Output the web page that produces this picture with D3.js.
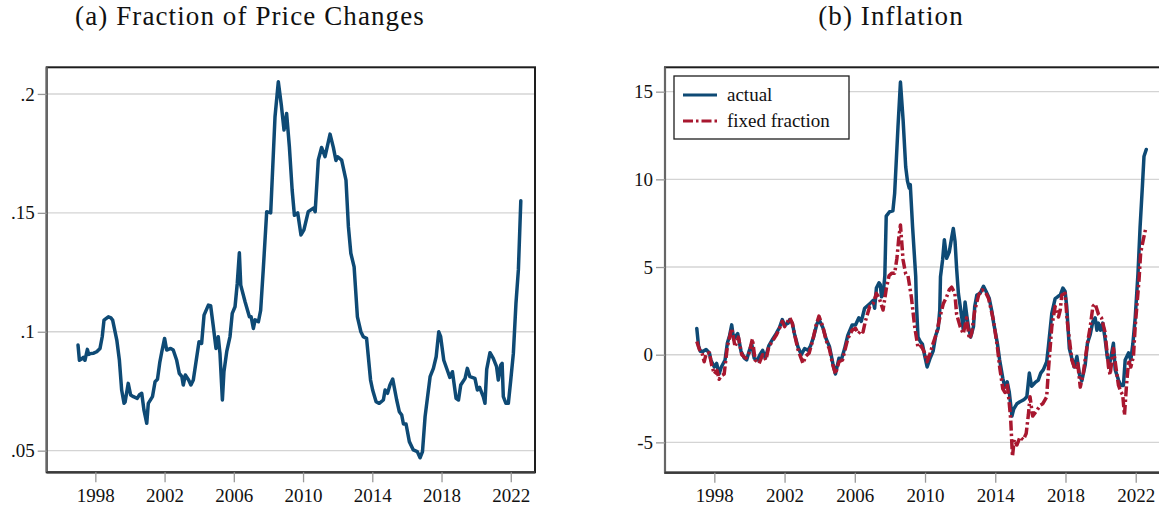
<!DOCTYPE html>
<html>
<head>
<meta charset="utf-8">
<script src="https://cdn.jsdelivr.net/npm/d3@7"></script>
<style>
  html, body { margin: 0; padding: 0; background: #fff; }
  svg { display: block; }
  text { font-family: "Liberation Serif", "Times New Roman", serif; fill: #111; }
</style>
</head>
<body>
<svg id="chart" width="1159" height="515"></svg>
<script>
// ---------------- DATA ----------------
const xTickYears = [1998, 2002, 2006, 2010, 2014, 2018, 2022];
const fracTicks = [0.05, 0.1, 0.15, 0.2];
const fracTickLabels = [".05", ".1", ".15", ".2"];
const inflTicks = [-5, 0, 5, 10, 15];
const inflTickLabels = ["-5", "0", "5", "10", "15"];
const titleA = "(a) Fraction of Price Changes";
const titleB = "(b) Inflation";
const legendLabels = ["actual", "fixed fraction"];

// Panel (a): fraction of price changes
const fracYears = [1997.0,1997.08,1997.2,1997.31,1997.4,1997.54,1997.62,1997.7,1997.9,1998.08,1998.27,1998.4,1998.5,1998.75,1998.9,1999.0,1999.24,1999.39,1999.52,1999.66,1999.72,1999.77,1999.9,2000.04,2000.2,2000.42,2000.55,2000.68,2000.81,2000.97,2001.06,2001.3,2001.45,2001.59,2001.72,2001.84,2002.0,2002.12,2002.35,2002.5,2002.7,2002.85,2003.0,2003.08,2003.2,2003.39,2003.52,2003.66,2003.86,2003.99,2004.14,2004.28,2004.53,2004.66,2004.82,2004.97,2005.1,2005.2,2005.34,2005.43,2005.59,2005.78,2005.91,2006.07,2006.2,2006.32,2006.4,2006.65,2006.9,2007.0,2007.13,2007.23,2007.42,2007.55,2007.7,2007.9,2008.13,2008.38,2008.57,2008.75,2008.9,2009.05,2009.21,2009.37,2009.5,2009.69,2009.88,2010.05,2010.3,2010.6,2010.7,2010.88,2011.07,2011.27,2011.56,2011.75,2011.9,2012.0,2012.23,2012.48,2012.62,2012.76,2012.95,2013.14,2013.34,2013.48,2013.67,2013.9,2014.02,2014.22,2014.4,2014.64,2014.74,2014.88,2015.02,2015.18,2015.41,2015.56,2015.7,2015.8,2015.95,2016.14,2016.37,2016.6,2016.76,2016.9,2017.05,2017.34,2017.53,2017.69,2017.84,2017.95,2018.13,2018.33,2018.48,2018.63,2018.84,2018.98,2019.11,2019.36,2019.49,2019.64,2019.93,2020.07,2020.2,2020.41,2020.51,2020.61,2020.8,2020.99,2021.18,2021.28,2021.42,2021.5,2021.57,2021.72,2021.86,2022.0,2022.15,2022.3,2022.44,2022.58];
const fracValues = [0.0944,0.088,0.0885,0.0892,0.088,0.0926,0.0905,0.0908,0.091,0.0916,0.093,0.098,0.1049,0.1063,0.1058,0.1049,0.0965,0.088,0.0755,0.0699,0.0705,0.0727,0.0783,0.0734,0.0727,0.072,0.0735,0.0741,0.067,0.0615,0.0699,0.0727,0.079,0.08,0.087,0.0916,0.0972,0.0923,0.093,0.0923,0.088,0.0825,0.0811,0.0776,0.0818,0.0797,0.0776,0.0797,0.0895,0.0958,0.0951,0.107,0.1112,0.111,0.102,0.093,0.0979,0.0909,0.0713,0.0832,0.0916,0.098,0.1077,0.1105,0.1204,0.1332,0.1196,0.1126,0.1063,0.1063,0.1014,0.105,0.1042,0.109,0.126,0.1505,0.150,0.1904,0.2051,0.195,0.1848,0.1918,0.1778,0.1596,0.149,0.150,0.1407,0.1428,0.1505,0.152,0.1505,0.1722,0.1775,0.1736,0.1831,0.1775,0.172,0.1736,0.1722,0.1638,0.1442,0.133,0.1273,0.1063,0.1,0.0979,0.0972,0.0797,0.0755,0.0706,0.0699,0.0713,0.0755,0.0741,0.0776,0.0801,0.0713,0.0664,0.065,0.0612,0.0612,0.0538,0.0503,0.0496,0.047,0.0496,0.0643,0.0811,0.0846,0.0895,0.1,0.0979,0.088,0.0839,0.0808,0.0832,0.072,0.0713,0.0776,0.0804,0.0846,0.0811,0.0804,0.0755,0.0766,0.0727,0.0699,0.0842,0.0912,0.0888,0.0853,0.0797,0.086,0.0867,0.0727,0.0699,0.0699,0.0797,0.0909,0.1119,0.126,0.1551];

// Panel (b): inflation, actual
const actualYears = [1997.0,1997.1,1997.2,1997.37,1997.53,1997.72,1997.8,1998.0,1998.13,1998.27,1998.4,1998.61,1998.74,1998.87,1998.99,1999.1,1999.33,1999.52,1999.71,1999.84,1999.98,2000.13,2000.27,2000.46,2000.6,2000.75,2000.9,2001.1,2001.33,2001.52,2001.71,2001.87,2002.0,2002.2,2002.3,2002.44,2002.56,2002.76,2002.95,2003.14,2003.33,2003.48,2003.65,2003.84,2003.96,2004.18,2004.37,2004.56,2004.75,2004.9,2005.1,2005.23,2005.42,2005.6,2005.85,2006.04,2006.23,2006.37,2006.56,2006.85,2007.04,2007.13,2007.23,2007.38,2007.45,2007.52,2007.61,2007.71,2007.79,2007.98,2008.17,2008.27,2008.46,2008.6,2008.75,2008.9,2009.0,2009.1,2009.16,2009.29,2009.47,2009.51,2009.6,2009.73,2009.85,2009.98,2010.12,2010.27,2010.46,2010.61,2010.75,2010.84,2010.88,2011.0,2011.1,2011.23,2011.38,2011.52,2011.61,2011.71,2011.8,2011.9,2012.09,2012.18,2012.28,2012.37,2012.47,2012.6,2012.76,2012.83,2012.95,2013.14,2013.33,2013.48,2013.66,2013.8,2013.91,2014.12,2014.25,2014.43,2014.55,2014.68,2014.8,2014.95,2015.05,2015.23,2015.38,2015.57,2015.7,2015.8,2015.94,2016.07,2016.26,2016.45,2016.59,2016.74,2016.93,2017.03,2017.22,2017.41,2017.55,2017.7,2017.85,2017.98,2018.07,2018.22,2018.36,2018.5,2018.65,2018.8,2018.93,2019.12,2019.25,2019.41,2019.56,2019.69,2019.79,2019.88,2020.0,2020.12,2020.25,2020.39,2020.54,2020.73,2020.83,2021.02,2021.15,2021.3,2021.4,2021.59,2021.72,2021.84,2021.97,2022.13,2022.25,2022.38,2022.47,2022.6];
const actualValues = [1.5,0.5,0.2,0.2,0.3,0.1,-0.3,-0.7,-0.5,-1.1,-0.7,-0.3,0.65,1.1,1.7,0.9,1.2,0.2,-0.2,-0.3,0.2,0.6,-0.2,-0.3,0,0.25,-0.2,0.5,0.9,1.2,1.55,2.0,1.7,1.8,2.0,1.8,1.2,0.45,0,0.35,0.25,0.5,1.0,1.75,2.0,1.55,0.9,0.45,-0.5,-1.1,-0.2,-0.3,0.35,1.1,1.7,1.7,2.1,1.9,2.65,2.9,3.1,2.65,3.8,4.1,4.0,3.3,3.4,4.5,7.9,8.15,8.2,9.2,13.0,15.55,13.4,10.7,9.9,9.5,9.7,7.3,4.45,2.9,1.0,0.75,0.6,-0.05,-0.7,-0.25,0.2,1.1,1.5,2.55,4.45,5.4,6.55,5.5,5.85,6.7,7.2,6.45,4.9,3.5,2.15,1.4,3.0,2.3,1.6,1.0,1.6,2.75,3.4,3.5,3.9,3.6,3.2,2.5,1.8,0.65,-0.3,-1.35,-1.85,-1.55,-2.15,-3.5,-3.1,-2.8,-2.7,-2.6,-2.5,-2.4,-1.05,-1.8,-1.6,-1.45,-1.05,-0.85,-0.4,0.5,2.35,3.2,3.3,3.4,3.8,3.6,2.75,0.35,-0.2,-0.7,-0.1,-1.15,-1.5,-0.6,0.65,1.15,1.9,2.1,1.4,1.8,1.4,1.8,0.95,-0.2,-0.4,0.65,-0.85,-1.45,-1.75,-1.75,-0.3,0.1,-0.3,0.65,2.1,4.65,7.3,9.6,11.3,11.7];

// Panel (b): inflation, fixed fraction
const fixedYears = [1997.0,1997.15,1997.3,1997.42,1997.55,1997.72,1997.85,1998.0,1998.15,1998.27,1998.4,1998.56,1998.74,1998.99,1999.18,1999.37,1999.56,1999.79,1999.98,2000.17,2000.32,2000.55,2000.75,2000.94,2001.1,2001.33,2001.52,2001.71,2001.87,2002.0,2002.3,2002.44,2002.56,2002.76,2003.05,2003.2,2003.4,2003.6,2003.8,2003.96,2004.18,2004.37,2004.56,2004.75,2004.9,2005.1,2005.3,2005.45,2005.6,2005.85,2006.04,2006.2,2006.37,2006.47,2006.6,2006.85,2007.04,2007.23,2007.4,2007.61,2007.8,2007.95,2008.1,2008.27,2008.4,2008.51,2008.6,2008.75,2008.9,2009.03,2009.22,2009.41,2009.6,2009.79,2009.98,2010.12,2010.27,2010.46,2010.65,2010.84,2011.04,2011.23,2011.38,2011.52,2011.7,2011.8,2012.0,2012.18,2012.37,2012.52,2012.65,2012.83,2013.05,2013.24,2013.43,2013.62,2013.89,2014.12,2014.25,2014.43,2014.55,2014.68,2014.8,2014.88,2014.98,2015.08,2015.23,2015.41,2015.6,2015.76,2015.89,2015.98,2016.13,2016.36,2016.55,2016.7,2016.93,2017.03,2017.22,2017.41,2017.6,2017.7,2017.79,2017.98,2018.1,2018.36,2018.55,2018.7,2018.84,2019.0,2019.25,2019.41,2019.56,2019.69,2019.88,2020.05,2020.25,2020.45,2020.54,2020.73,2020.89,2021.02,2021.15,2021.26,2021.36,2021.47,2021.6,2021.72,2021.87,2021.97,2022.19,2022.28,2022.43,2022.57];
const fixedValues = [0.75,0.3,0.1,-0.4,0.1,0.1,-0.6,-1.1,-0.9,-1.4,-1.2,-1.1,0.45,1.5,0.45,1.0,0,-0.2,0.1,0.9,-0.3,-0.5,0,-0.3,0.45,0.8,1.1,1.5,1.9,1.6,2.1,1.8,1.2,0.3,-0.5,-0.1,0.1,0.8,1.7,2.2,1.6,0.8,0.3,-0.6,-1.1,-0.4,-0.3,0.3,0.9,1.4,1.5,1.2,1.4,1.3,1.9,2.75,2.9,3.5,3.2,2.55,3.8,4.5,4.65,4.65,5.5,6.7,7.4,5.4,4.6,4.5,3.3,1.6,0.4,0.5,0.1,-0.4,0,0.65,1.2,2.1,2.9,3.3,3.7,3.85,3.5,2.3,1.6,1.2,2.1,0.9,1.2,2.5,3.4,3.7,3.6,3.2,2.0,0.45,-0.7,-1.95,-2.15,-1.65,-2.8,-3.7,-5.8,-4.85,-5.15,-4.7,-4.85,-4.5,-3.4,-2.4,-3.5,-3.2,-2.9,-2.8,-2.4,-0.85,1.6,2.75,2.15,2.55,3.4,3.5,1.9,-0.3,-0.85,-0.5,-1.85,-1.15,0.65,1.6,2.75,2.9,2.3,2.1,1.3,-0.7,-1.15,0.35,-0.85,-1.75,-2.1,-2.3,-3.45,-1.8,-0.3,-0.7,-0.1,1.6,4.3,5.8,6.55,7.2];

// ---------------- STYLE / LAYOUT ----------------
const BLUE = "#0e4a75";
const RED = "#a8172f";
const GRID = "#d4d4d4";
const xDomain = [1995.19, 2023.4];

const svg = d3.select("#chart");

function panel(opts) {
  const g = svg.append("g");
  const x = d3.scaleLinear().domain(xDomain).range([opts.left, opts.right]);
  const y = d3.scaleLinear().domain(opts.yDomain).range([opts.bottom, opts.top]);

  g.append("g").selectAll("line").data(opts.yTicks).join("line")
    .attr("x1", opts.left).attr("x2", opts.right)
    .attr("y1", d => y(d)).attr("y2", d => y(d))
    .attr("stroke", GRID).attr("stroke-width", 1.4);

  g.append("rect")
    .attr("x", opts.left).attr("y", opts.top)
    .attr("width", opts.right - opts.left).attr("height", opts.bottom - opts.top)
    .attr("fill", "none").attr("stroke", "#1e1e1e").attr("stroke-width", 2);

  const yAxis = d3.axisLeft(y).tickValues(opts.yTicks)
    .tickFormat((d, i) => opts.yLabels[i]).tickSize(9).tickPadding(3);
  const ya = g.append("g").attr("transform", `translate(${opts.left},0)`).call(yAxis);
  ya.select(".domain").attr("stroke", "#666").attr("stroke-width", 2.2)
    .attr("d", `M0,${opts.top}V${opts.bottom}`);
  ya.selectAll(".tick line").attr("stroke", "#999").attr("stroke-width", 1.3);
  ya.selectAll(".tick text").attr("font-size", 19).attr("font-family", "Liberation Serif").attr("fill", "#111");

  const xAxis = d3.axisBottom(x).tickValues(xTickYears)
    .tickFormat(d3.format("d")).tickSize(10).tickPadding(6);
  const xa = g.append("g").attr("transform", `translate(0,${opts.bottom})`).call(xAxis);
  xa.select(".domain").attr("stroke", "#3a3a3a").attr("stroke-width", 2.2)
    .attr("d", `M${opts.left},0H${opts.right}`);
  xa.selectAll(".tick line").attr("stroke", "#999").attr("stroke-width", 1.3);
  xa.selectAll(".tick text").attr("font-size", 19).attr("font-family", "Liberation Serif").attr("fill", "#111");

  svg.append("text").attr("x", opts.titleX).attr("y", 25)
    .attr("text-anchor", "middle").attr("font-size", 27)
    .attr("letter-spacing", "1.1px")
    .text(opts.title);

  const clip = "clip" + Math.round(opts.left);
  svg.append("clipPath").attr("id", clip).append("rect")
    .attr("x", opts.left).attr("y", opts.top)
    .attr("width", opts.right - opts.left).attr("height", opts.bottom - opts.top);
  const plot = svg.append("g").attr("clip-path", `url(#${clip})`);
  return { x, y, plot };
}

// Panel (a)
const A = panel({ left: 46.7, right: 535, top: 67.3, bottom: 472.3,
  yDomain: [0.0409, 0.2112], yTicks: fracTicks, yLabels: fracTickLabels,
  title: titleA, titleX: 250 });
const fracData = fracYears.map((t, i) => [t, fracValues[i]]);
A.plot.append("path").datum(fracData)
  .attr("fill", "none").attr("stroke", BLUE).attr("stroke-width", 3.5)
  .attr("stroke-linejoin", "round").attr("stroke-linecap", "round")
  .attr("d", d3.line().x(d => A.x(d[0])).y(d => A.y(d[1])));

// Panel (b)
const B = panel({ left: 665, right: 1160.3, top: 67.3, bottom: 472.7,
  yDomain: [-6.73, 16.39], yTicks: inflTicks, yLabels: inflTickLabels,
  title: titleB, titleX: 891 });
const actualData = actualYears.map((t, i) => [t, actualValues[i]]);
const fixedData = fixedYears.map((t, i) => [t, fixedValues[i]]);
const lineB = d3.line().x(d => B.x(d[0])).y(d => B.y(d[1]));
B.plot.append("path").datum(actualData)
  .attr("fill", "none").attr("stroke", BLUE).attr("stroke-width", 3.5)
  .attr("stroke-linejoin", "round").attr("stroke-linecap", "round")
  .attr("d", lineB);
B.plot.append("path").datum(fixedData)
  .attr("fill", "none").attr("stroke", RED).attr("stroke-width", 3.5)
  .attr("stroke-dasharray", "10,3,2.5,3")
  .attr("stroke-linejoin", "round")
  .attr("d", lineB);

// Legend
const lg = svg.append("g");
lg.append("rect").attr("x", 674).attr("y", 76).attr("width", 175).attr("height", 63)
  .attr("fill", "#fff").attr("stroke", "#1e1e1e").attr("stroke-width", 1.3);
const legendItems = [
  { label: legendLabels[0], color: BLUE, dash: null, y: 95 },
  { label: legendLabels[1], color: RED, dash: "10,3,2.5,3", y: 121 }
];
legendItems.forEach(it => {
  const l = lg.append("line").attr("x1", 683).attr("x2", 717)
    .attr("y1", it.y).attr("y2", it.y)
    .attr("stroke", it.color).attr("stroke-width", 3.2);
  if (it.dash) l.attr("stroke-dasharray", it.dash);
  lg.append("text").attr("x", 727).attr("y", it.y + 6)
    .attr("font-size", 19).text(it.label);
});
</script>
</body>
</html>
